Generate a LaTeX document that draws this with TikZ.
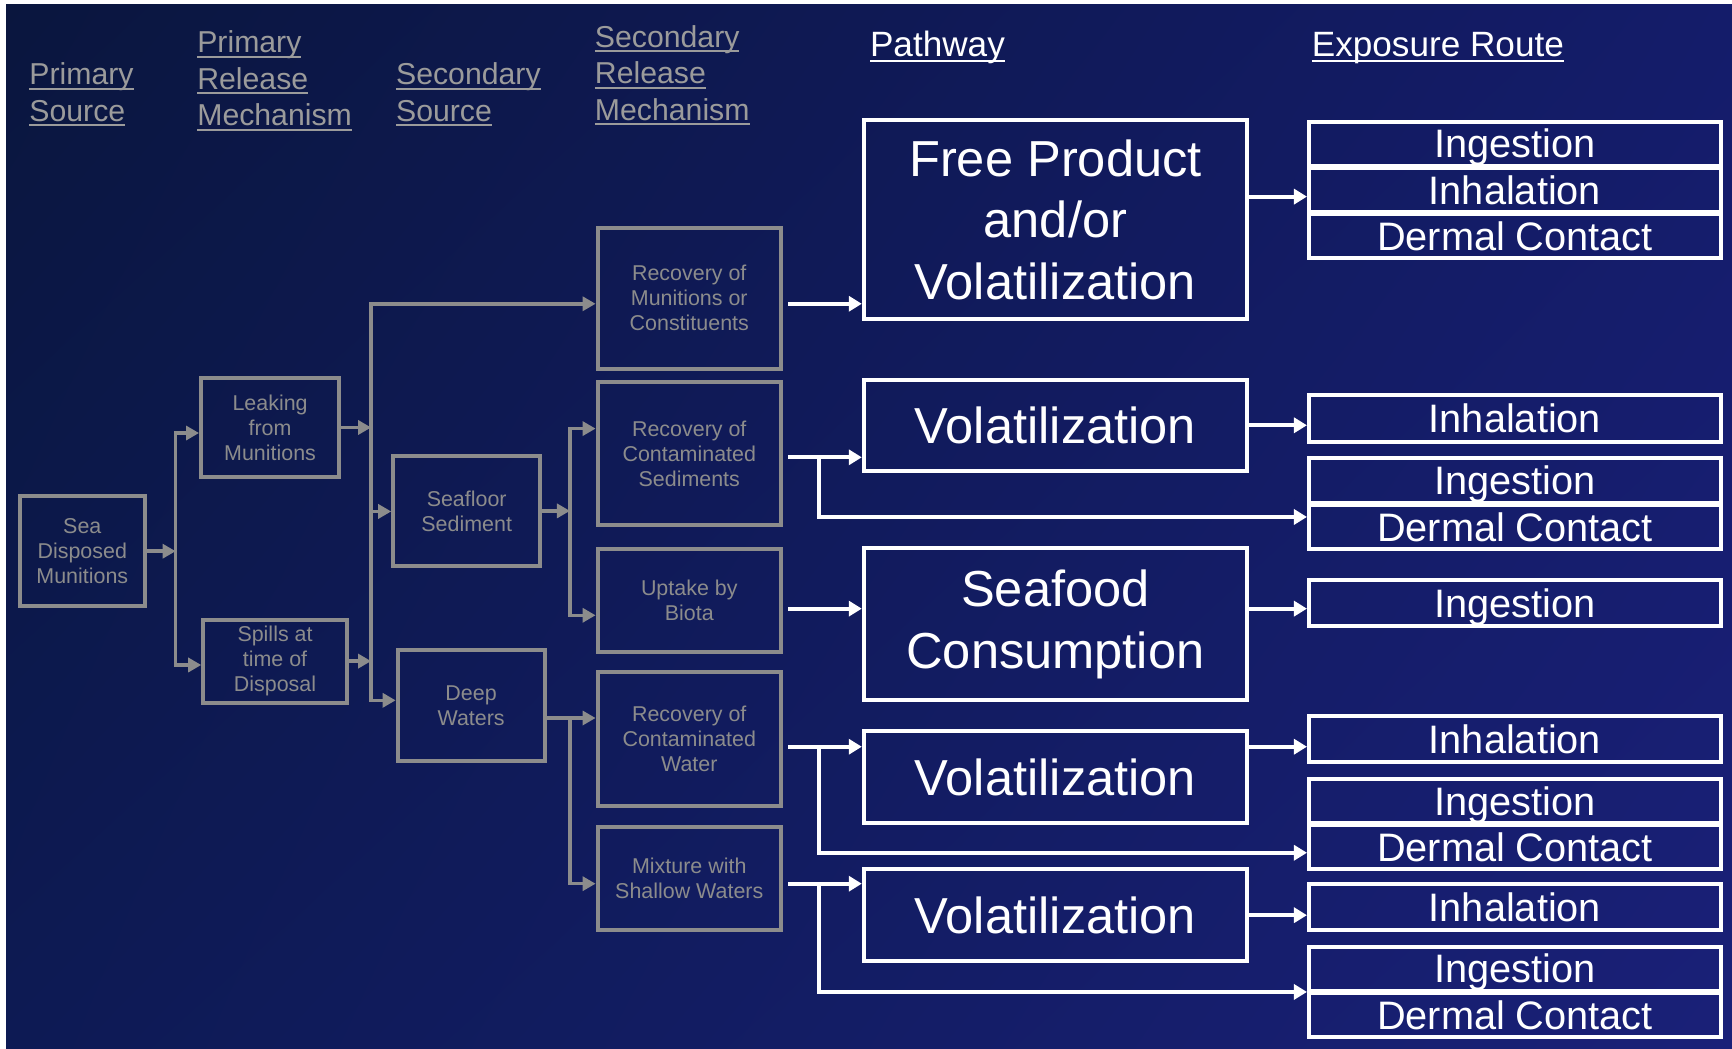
\documentclass[tikz,border=0pt]{standalone}
\usepackage{fontspec}
\setmainfont{Liberation Sans}
\usetikzlibrary{arrows.meta,shadings}

\definecolor{bgul}{RGB}{10,22,62}
\definecolor{bgur}{RGB}{20,28,106}
\definecolor{bgll}{RGB}{13,26,84}
\definecolor{bglr}{RGB}{26,32,120}
\definecolor{boxgray}{RGB}{140,140,140}
\definecolor{headgray}{RGB}{155,155,155}

\newlength\pxu
\setlength\pxu{0.11046mm}
\newsavebox\hdbox
\newcommand\hdul[1]{\sbox\hdbox{#1}\rlap{\rule[-0.16em]{\wd\hdbox}{0.065em}}\usebox\hdbox}

\begin{document}
\begin{tikzpicture}[x=0.11046mm,y=-0.11046mm,
  wh/.style 2 args={minimum width=#1*\pxu,minimum height=#2*\pxu},
  gbox/.style={draw=boxgray,line width=0.4mm,text=boxgray,inner sep=0pt,align=center,font=\fontsize{6.1}{7.1}\selectfont},
  wbox/.style={draw=white,line width=0.4mm,text=white,inner sep=0pt,align=center,font=\fontsize{14.4}{17.6}\selectfont},
  wone/.style={text height=10.3pt,text depth=0pt},
  ebox/.style={draw=white,line width=0.4mm,text=white,inner sep=0pt,font=\fontsize{11.3}{13}\selectfont,
    text height=8.1pt,text depth=0pt,minimum width=373*\pxu,minimum height=40*\pxu},
  ghead/.style={text=headgray,anchor=base west,align=left,inner sep=0pt,font=\fontsize{8.6}{10.4}\selectfont},
  whead/.style={text=white,anchor=base west,inner sep=0pt,font=\fontsize{10}{12}\selectfont},
  garr/.style={draw=boxgray,line width=0.35mm,line cap=rect,-{Triangle[length=1.3mm,width=1.4mm]}},
  warr/.style={draw=white,line width=0.4mm,line cap=rect,-{Triangle[length=1.3mm,width=1.5mm]}}]

\useasboundingbox (0,0) rectangle (1568,949);
\fill[white] (0,0) rectangle (1568,949);
\shade[upper left=bgul,upper right=bgur,lower left=bgll,lower right=bglr] (5.5,4.5) rectangle (1568,949);

\node[ghead] (h1) at (26,110) {\hdul{Primary}\\\hdul{Source}};
\node[ghead] (h2) at (178,114) {\hdul{Primary}\\\hdul{Release}\\\hdul{Mechanism}};
\node[ghead] (h3) at (358,110) {\hdul{Secondary}\\\hdul{Source}};
\node[ghead] (h4) at (538,109) {\hdul{Secondary}\\\hdul{Release}\\\hdul{Mechanism}};
\node[whead] (h5) at (787,51) {\hdul{Pathway}};
\node[whead] (h6) at (1187,51) {\hdul{Exposure Route}};

\node[gbox,wh={113}{100}] (sea) at (74.5,499) {Sea\\Disposed\\Munitions};
\node[gbox,wh={125}{90}] (leak) at (244.5,387) {Leaking\\from\\Munitions};
\node[gbox,wh={130}{75}] (spill) at (249,598.5) {Spills at\\time of\\Disposal};
\node[gbox,wh={133}{99}] (seafl) at (422.5,462.5) {Seafloor\\Sediment};
\node[gbox,wh={133}{101}] (deep) at (426.5,638.5) {Deep\\Waters};
\node[gbox,wh={166}{128}] (recmun) at (624,270) {Recovery of\\Munitions or\\Constituents};
\node[gbox,wh={166}{129}] (recsed) at (624,410.5) {Recovery of\\Contaminated\\Sediments};
\node[gbox,wh={166}{93}] (biota) at (624,543.5) {Uptake by\\Biota};
\node[gbox,wh={166}{122}] (recwat) at (624,669) {Recovery of\\Contaminated\\Water};
\node[gbox,wh={166}{93}] (mix) at (624,795.5) {Mixture with\\Shallow Waters};

\node[wbox,wh={347}{180}] (free) at (955.5,199) {Free Product\\and/or\\Volatilization};
\node[wbox,wone,wh={347}{82}] (vol1) at (955.5,385) {Volatilization};
\node[wbox,wh={347}{138}] (food) at (955.5,565) {Seafood\\Consumption};
\node[wbox,wone,wh={347}{83}] (vol2) at (955.5,703.5) {Volatilization};
\node[wbox,wone,wh={347}{83}] (vol3) at (955.5,828.5) {Volatilization};

\node[ebox] (e1a) at (1371.5,130) {Ingestion};
\node[ebox] (e1b) at (1371.5,172) {Inhalation};
\node[ebox] (e1c) at (1371.5,214) {Dermal Contact};
\node[ebox,minimum height=42*\pxu] (e2) at (1371.5,379) {Inhalation};
\node[ebox] (e3a) at (1371.5,435) {Ingestion};
\node[ebox] (e3b) at (1371.5,477) {Dermal Contact};
\node[ebox,minimum height=41*\pxu] (e4) at (1371.5,546) {Ingestion};
\node[ebox,minimum height=42*\pxu] (e5) at (1371.5,669) {Inhalation};
\node[ebox] (e6a) at (1371.5,725) {Ingestion};
\node[ebox] (e6b) at (1371.5,767) {Dermal Contact};
\node[ebox,minimum height=42*\pxu] (e7) at (1371.5,821) {Inhalation};
\node[ebox] (e8a) at (1371.5,877) {Ingestion};
\node[ebox] (e8b) at (1371.5,919) {Dermal Contact};

\coordinate (b1t) at (159,392);
\coordinate (b1b) at (159,602);
\coordinate (b2t) at (336,275);
\coordinate (b2m) at (336,463);
\coordinate (b2b) at (336,634);
\coordinate (b3t) at (516,388);
\coordinate (b3b) at (516,557);
\coordinate (b4) at (516,650);
\coordinate (b4b) at (516,800);

\draw[garr] (sea.east) -- (sea.east -| b1t);
\draw[garr] (b1b) |- (leak.west |- b1t);
\draw[garr] (b1b) -- (b1b -| spill.west);
\draw[garr] (leak.east) -- (leak.east -| b2t);
\draw[garr] (spill.east) -- (spill.east -| b2t);
\draw[garr] (b2b) |- (recmun.west |- b2t);
\draw[garr] (b2m) -- (b2m -| seafl.west);
\draw[garr] (b2b) -- (b2b -| deep.west);
\draw[garr] (seafl.east) -- (seafl.east -| b3t);
\draw[garr] (b3b) |- (recsed.west |- b3t);
\draw[garr] (b3b) -- (b3b -| biota.west);
\draw[garr] (deep.east |- b4) -- (recwat.west |- b4);
\draw[garr] (b4) |- (mix.west |- b4b);

\coordinate (w0) at (1150,178);
\coordinate (w1) at (715,275);
\coordinate (w2) at (715,414);
\coordinate (w2d) at (741,468);
\coordinate (w3) at (715,551);
\coordinate (w4) at (715,676);
\coordinate (w4d) at (741,772);
\coordinate (w5) at (715,800);
\coordinate (w5d) at (741,898);

\draw[warr] (w1) -- (w1 -| free.west);
\draw[warr] (w2) -- (w2 -| vol1.west);
\draw[warr] (w2d |- w2) |- (e3b.west |- w2d);
\draw[warr] (w3) -- (w3 -| food.west);
\draw[warr] (w4) -- (w4 -| vol2.west);
\draw[warr] (w4d |- w4) |- (e6b.west |- w4d);
\draw[warr] (w5) -- (w5 -| vol3.west);
\draw[warr] (w5d |- w5) |- (e8a.west |- w5d);

\draw[warr] (w0 -| free.east) -- (w0 -| e1b.west);
\draw[warr] (vol1.east) -- (vol1.east -| e2.west);
\draw[warr] (food.east |- w3) -- (e4.west |- w3);
\draw[warr] (vol2.east |- w4) -- (e5.west |- w4);
\draw[warr] (vol3.east) -- (vol3.east -| e7.west);
\end{tikzpicture}
\end{document}
